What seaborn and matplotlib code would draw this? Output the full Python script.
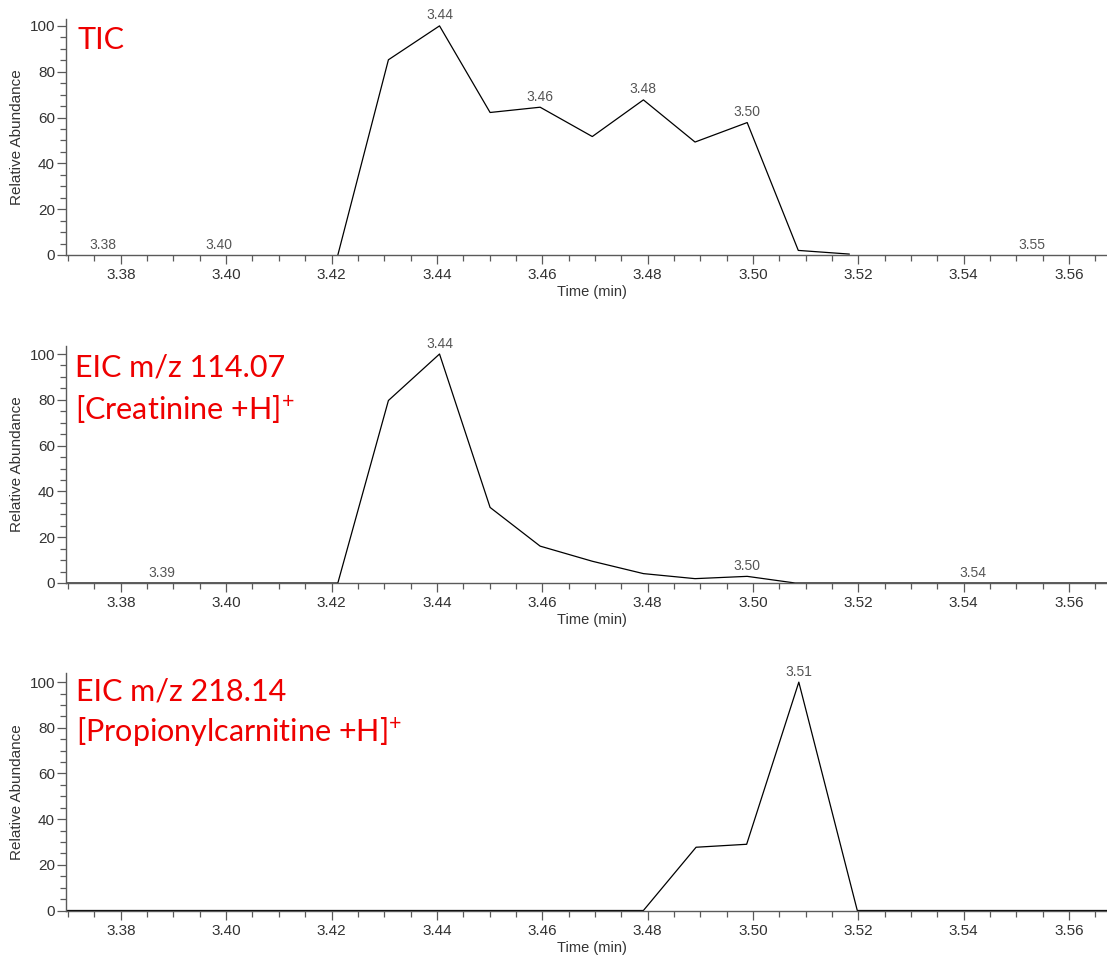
import matplotlib
matplotlib.use("Agg")
import matplotlib.pyplot as plt
from matplotlib.ticker import MultipleLocator, FormatStrFormatter
import pandas as pd
import seaborn as sns

# ---- Total ion chromatogram ----
tic_time = [3.4212, 3.4308, 3.4405, 3.4501, 3.4596, 3.4695, 3.4792, 3.4890, 3.4989, 3.5086, 3.5183]
tic_abund = [0.0, 85.2, 100.0, 62.2, 64.5, 51.7, 67.7, 49.3, 57.8, 2.0, 0.4]
tic_label_time = [3.3766, 3.3986, 3.4405, 3.4596, 3.4792, 3.4989, 3.5529]
tic_label_abund = [0.0, 0.0, 100.0, 64.5, 67.7, 57.8, 0.0]

# ---- EIC m/z 114.07 (creatinine) ----
cre_time = [3.36, 3.4212, 3.4308, 3.4405, 3.4501, 3.4596, 3.4695, 3.4792, 3.4890, 3.4989, 3.5080, 3.58]
cre_abund = [0.0, 0.0, 79.7, 100.0, 33.0, 16.1, 9.5, 4.1, 1.9, 2.9, 0.0, 0.0]
cre_label_time = [3.3877, 3.4405, 3.4989, 3.5417]
cre_label_abund = [0.0, 100.0, 2.9, 0.0]

# ---- EIC m/z 218.14 (propionylcarnitine) ----
pro_time = [3.36, 3.4792, 3.4892, 3.4988, 3.5087, 3.5198, 3.58]
pro_abund = [0.0, 0.0, 27.7, 29.0, 100.0, 0.0, 0.0]
pro_label_time = [3.5087]
pro_label_abund = [100.0]

panel_titles = [
    ["TIC"],
    ["EIC m/z 114.07", "[Creatinine +H]$^{+}$"],
    ["EIC m/z 218.14", "[Propionylcarnitine +H]$^{+}$"],
]

sns.set_theme(style="white")
plt.rcParams["font.family"] = ["Liberation Sans", "DejaVu Sans"]
plt.rcParams["mathtext.fontset"] = "custom"
plt.rcParams["mathtext.rm"] = "Lato"
plt.rcParams["mathtext.it"] = "Lato"
plt.rcParams["mathtext.bf"] = "Lato"

W, H = 1107, 960
fig = plt.figure(figsize=(W / 100, H / 100), dpi=100)

# axes boxes in pixels: (left, top, right, bottom)
boxes = [(66, 19, 1107, 255), (66, 346, 1107, 583), (66, 673, 1107, 910.5)]
ymax = [103.0, 103.5, 104.0]
title_pos = [[(0.0106, 0.873)], [(0.0086, 0.870), (0.0086, 0.688)], [(0.010, 0.886), (0.010, 0.711)]]

traces = [
    (tic_time, tic_abund, tic_label_time, tic_label_abund),
    (cre_time, cre_abund, cre_label_time, cre_label_abund),
    (pro_time, pro_abund, pro_label_time, pro_label_abund),
]

axis_grey = "#5a5a5a"
text_grey = "#333333"

for i, ((l, t, r, b), (tt, aa, lt, la)) in enumerate(zip(boxes, traces)):
    ax = fig.add_axes([l / W, 1 - b / H, (r - l) / W, (b - t) / H])
    df = pd.DataFrame({"Time (min)": tt, "Relative Abundance": aa})
    sns.lineplot(data=df, x="Time (min)", y="Relative Abundance", ax=ax,
                 color="black", linewidth=0.9, estimator=None, sort=False)
    ax.set_xlim(3.3696, 3.5672)
    ax.set_ylim(0, ymax[i])

    for s in ["top", "right"]:
        ax.spines[s].set_visible(False)
    for s in ["left", "bottom"]:
        ax.spines[s].set_color(axis_grey)
        ax.spines[s].set_linewidth(1.0)

    ax.xaxis.set_major_locator(MultipleLocator(0.02))
    ax.xaxis.set_minor_locator(MultipleLocator(0.005))
    ax.xaxis.set_major_formatter(FormatStrFormatter("%.2f"))
    ax.yaxis.set_major_locator(MultipleLocator(20))
    ax.yaxis.set_minor_locator(MultipleLocator(5))
    ax.tick_params(axis="both", which="major", length=6.5, width=0.9, color=axis_grey,
                   labelsize=11, labelcolor=text_grey, direction="out")
    ax.tick_params(axis="both", which="minor", length=4.5, width=0.9, color=axis_grey,
                   direction="out")
    ax.tick_params(axis="x", which="major", pad=3.0)
    ax.tick_params(axis="y", which="major", pad=1.5)
    ax.tick_params(axis="x", which="both", bottom=True)
    ax.tick_params(axis="y", which="both", left=True)

    ax.set_xlabel("Time (min)", fontsize=10.5, color=text_grey)
    ax.set_ylabel("Relative Abundance", fontsize=11, color=text_grey)
    ax.xaxis.set_label_coords(0.505, -0.128)
    ax.yaxis.set_label_coords(-0.040, 0.5)

    # retention-time annotations
    for x, y in zip(lt, la):
        ax.annotate(f"{x:.2f}", xy=(x, y), xytext=(0, 2.5), textcoords="offset points",
                    ha="center", va="bottom", fontsize=10, color="#555555")

    for line, (px, py) in zip(panel_titles[i], title_pos[i]):
        ax.text(px, py, line, transform=ax.transAxes, ha="left", va="baseline",
                fontsize=22, color="#ee0000", family=["Lato", "DejaVu Sans"])

fig.savefig("out.png", dpi=100, facecolor="white")
